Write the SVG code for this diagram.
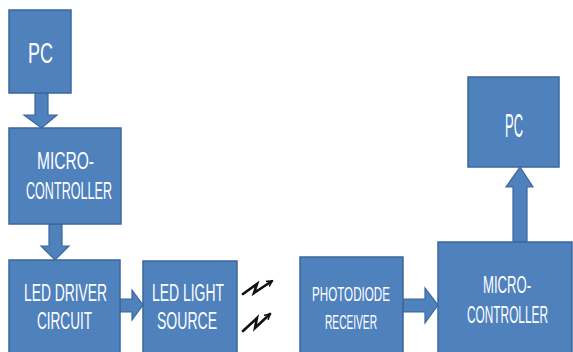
<svg xmlns="http://www.w3.org/2000/svg" width="573" height="352" viewBox="0 0 573 352">
  <defs>
    <style>
      .box { fill: #4f81bd; stroke: #3a679c; stroke-width: 1.5; }
      .arr { fill: #4f81bd; stroke: #3a679c; stroke-width: 1.2; stroke-linejoin: miter; }
      .lbl { fill: #ffffff; font-family: "Liberation Sans", Arial, sans-serif; text-anchor: start; }
      .zz { fill: none; stroke: #111111; stroke-width: 2.6; stroke-linejoin: miter; stroke-linecap: round; }
    </style>
    <marker id="vh" viewBox="0 0 10 10" refX="8" refY="5" markerWidth="7" markerHeight="7" orient="auto" markerUnits="userSpaceOnUse">
      <path d="M1,1 L8,5 L1,9" fill="none" stroke="#111111" stroke-width="2.2" stroke-linecap="round"/>
    </marker>
  </defs>
  <rect width="573" height="352" fill="#ffffff"/>

  <g id="connectors">
    <polygon class="arr" points="35,93 48,93 48,115 57,115 41.5,128 24,115 35,115"/>
    <polygon class="arr" points="49,224 62,224 62,246 69,246 55,260 41,246 49,246"/>
    <polygon class="arr" points="120,299 132,299 132,290 143,305 132,320 132,312 120,312"/>
    <polygon class="arr" points="403,299 425,299 425,288 438,305 425,323 425,312 403,312"/>
    <polygon class="arr" points="513,242 513,187 506,187 520,167 533,187 527,187 527,242"/>
    <polyline class="zz" points="243,294 257,284 254,293 272,281" marker-end="url(#vh)"/>
    <polyline class="zz" points="243,331 257,318 255,328 270,314" marker-end="url(#vh)"/>
  </g>

  <g id="pc-left">
    <rect class="box" x="9" y="10" width="62" height="83"/>
    <text class="lbl" x="28" y="63" font-size="29" textLength="25" lengthAdjust="spacingAndGlyphs">PC</text>
  </g>

  <g id="micro-left">
    <rect class="box" x="9" y="128" width="112" height="96"/>
    <text class="lbl" x="37" y="169" font-size="23" textLength="57" lengthAdjust="spacingAndGlyphs">MICRO-</text>
    <text class="lbl" x="26" y="199" font-size="23" textLength="86" lengthAdjust="spacingAndGlyphs">CONTROLLER</text>
  </g>

  <g id="led-driver">
    <rect class="box" x="9" y="260" width="111" height="100"/>
    <text class="lbl" x="24" y="301" font-size="23" textLength="83" lengthAdjust="spacingAndGlyphs">LED DRIVER</text>
    <text class="lbl" x="37" y="329" font-size="23" textLength="55" lengthAdjust="spacingAndGlyphs">CIRCUIT</text>
  </g>

  <g id="led-light">
    <rect class="box" x="143" y="261" width="94" height="100"/>
    <text class="lbl" x="152" y="301" font-size="23" textLength="72" lengthAdjust="spacingAndGlyphs">LED LIGHT</text>
    <text class="lbl" x="157" y="329" font-size="23" textLength="60" lengthAdjust="spacingAndGlyphs">SOURCE</text>
  </g>

  <g id="photodiode">
    <rect class="box" x="300" y="257" width="103" height="104"/>
    <text class="lbl" x="312" y="301" font-size="21" textLength="78" lengthAdjust="spacingAndGlyphs">PHOTODIODE</text>
    <text class="lbl" x="325" y="329" font-size="21" textLength="52" lengthAdjust="spacingAndGlyphs">RECEIVER</text>
  </g>

  <g id="micro-right">
    <rect class="box" x="438" y="242" width="134" height="120"/>
    <text class="lbl" x="483" y="293" font-size="23" textLength="48" lengthAdjust="spacingAndGlyphs">MICRO-</text>
    <text class="lbl" x="467" y="323" font-size="23" textLength="81" lengthAdjust="spacingAndGlyphs">CONTROLLER</text>
  </g>

  <g id="pc-right">
    <rect class="box" x="468" y="77" width="91" height="90"/>
    <text class="lbl" x="505" y="137" font-size="33" textLength="18" lengthAdjust="spacingAndGlyphs">PC</text>
  </g>
</svg>
